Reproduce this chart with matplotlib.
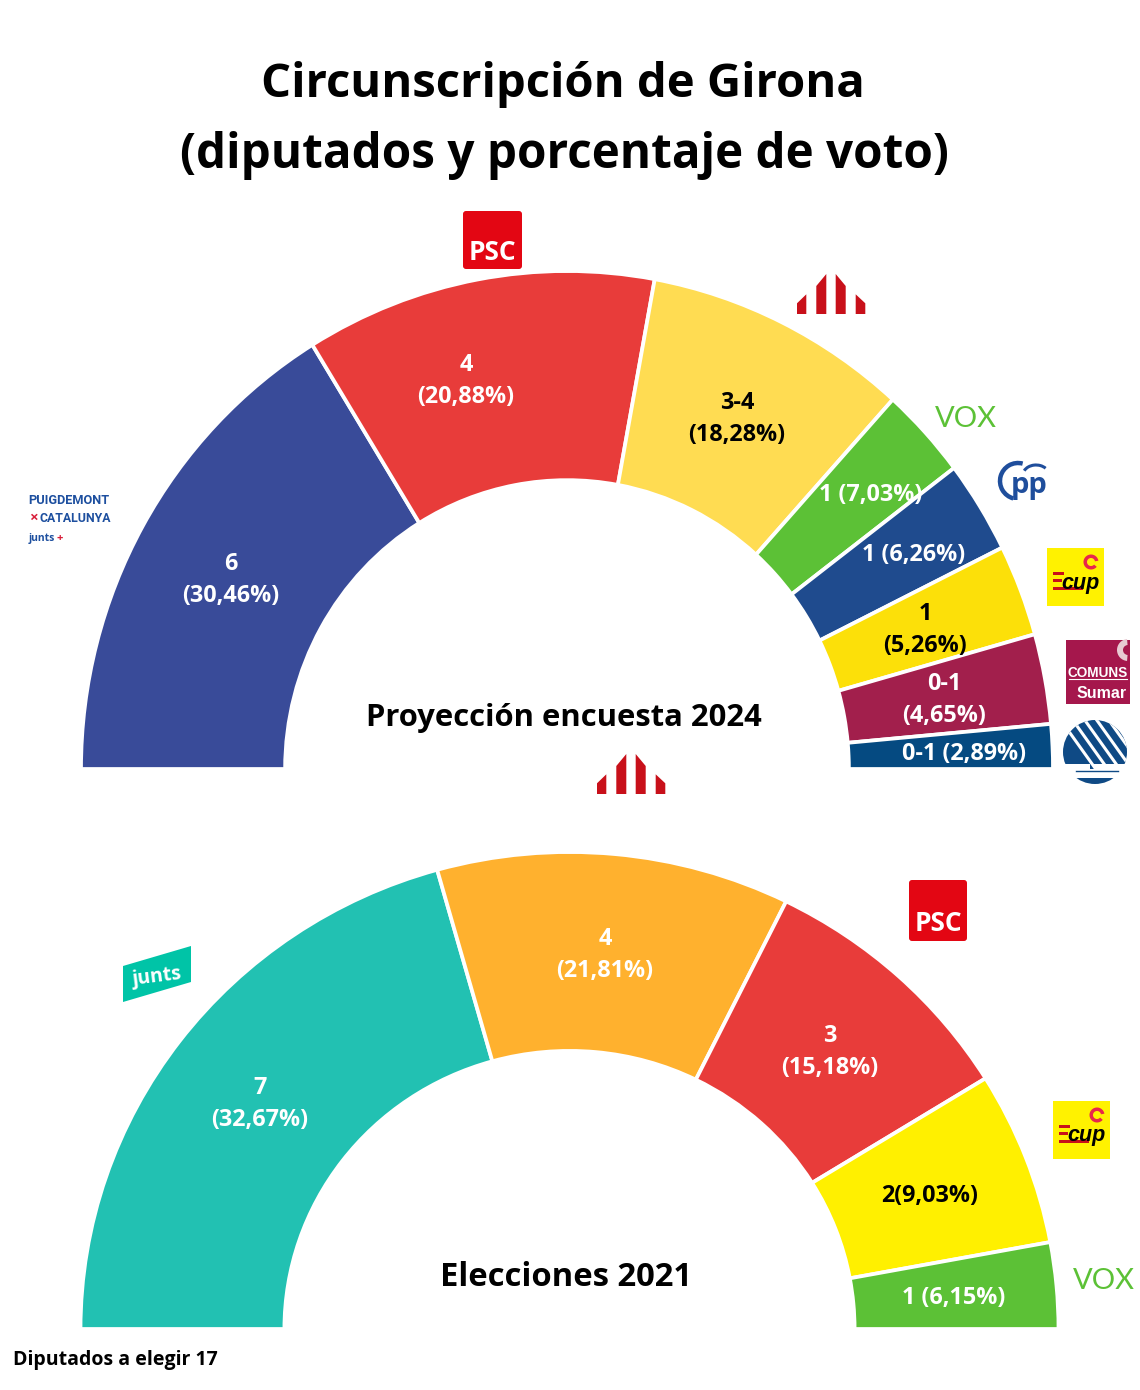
import matplotlib
matplotlib.use('Agg')
import matplotlib.pyplot as plt
from matplotlib.patches import Rectangle, FancyBboxPatch, Polygon, Circle, Arc, Wedge

W, H = 1140, 1390
FUENTE = 'Open Sans'

# Encuesta 2024: tamano de cada sector (grados)
sectores_2024 = [58.4, 42.0, 31.7, 10.7, 10.8, 10.7, 10.5, 5.2]
etiquetas_2024 = ['6\n(30,46%)', '4\n(20,88%)', '3-4\n(18,28%)', '1 (7,03%)', '1 (6,26%)',
                  '1\n(5,26%)', '0-1\n(4,65%)', '0-1 (2,89%)']
colores_2024 = ['#394B99', '#E83C3A', '#FFDC52', '#5CC136', '#1F4B8E', '#FCE009', '#A21F4C', '#054A81']
texto_2024 = ['white', 'white', 'black', 'white', 'white', 'black', 'white', 'white']
pos_2024 = [(231, 580), (466, 381), (737, 419), (871, 495), (914, 555), (925, 630), (944, 700), (964, 754)]

# Elecciones 2021
sectores_2021 = [74.3, 42.0, 32.0, 21.2, 10.5]
etiquetas_2021 = ['7\n(32,67%)', '4\n(21,81%)', '3\n(15,18%)', '2(9,03%)', '1 (6,15%)']
colores_2021 = ['#22C1B2', '#FFB12E', '#E83C3A', '#FFF000', '#5CC136']
texto_2021 = ['white', 'white', 'white', 'black', 'white']
pos_2021 = [(260, 1104), (605, 955), (830, 1052), (930, 1196), (954, 1298)]


def semicirculo(cx, cy, a, b, r_int, sectores, colores):
    # ejes a medida para que el circulo unidad salga como la elipse del original
    ax = fig.add_axes([(cx - a) / W, 1 - (cy + b) / H, 2 * a / W, 2 * b / H])
    valores = sectores + [sum(sectores)]
    wedges, _ = ax.pie(valores, colors=colores + ['white'], startangle=180, counterclock=False,
                       radius=1, wedgeprops={'width': 1 - r_int, 'edgecolor': 'white', 'linewidth': 2.7})
    wedges[-1].set_visible(False)
    ax.set_aspect('auto')
    ax.set_xlim(-1, 1)
    ax.set_ylim(-1, 1)
    ax.axis('off')


def logo_erc(x, y):
    piezas = [[(0, 0), (9.3, 0), (9.3, -19.7), (0, -10.7)],
              [(19.3, 0), (29.3, 0), (29.3, -40), (19.3, -28)],
              [(38.7, 0), (48.7, 0), (48.7, -28), (38.7, -40)],
              [(58.7, 0), (68.3, 0), (68.3, -10.7), (58.7, -19.7)]]
    for p in piezas:
        lienzo.add_patch(Polygon([(x + px, y + py) for px, py in p], color='#C8101A', lw=0))


def logo_psc(x, y, ancho, alto):
    lienzo.add_patch(FancyBboxPatch((x + 3, y + 3), ancho - 6, alto - 6, boxstyle='round,pad=3,rounding_size=3',
                                    fc='#E30613', ec='none'))
    lienzo.text(x + ancho / 2, y + alto * 0.71, 'PSC', color='white', fontsize=19, fontweight='bold',
                family=FUENTE, ha='center', va='center')


def logo_vox(x, y):
    lienzo.text(x, y, 'VOX', color='#5CC136', fontsize=21, family='Lato', ha='center', va='center')


def logo_cup(x, y):
    lienzo.add_patch(Rectangle((x, y), 57, 58, fc='#FFF200', ec='none'))
    lienzo.add_patch(Wedge((x + 44, y + 14), 7.5, 40, 350, width=3.5, color='#E8274B', lw=0))
    lienzo.add_patch(Rectangle((x + 6, y + 24), 11, 2.5, fc='#C8101A', ec='none'))
    lienzo.add_patch(Rectangle((x + 6, y + 31), 9, 2.5, fc='#C8101A', ec='none'))
    lienzo.add_patch(Rectangle((x + 6, y + 39), 30, 3, fc='#C8101A', ec='none'))
    lienzo.text(x + 33, y + 35, 'cup', color='black', fontsize=15.5, fontweight='bold', style='italic',
                family='Liberation Sans', ha='center', va='center')


semi = {'family': FUENTE, 'fontweight': 'bold'}

fig = plt.figure(figsize=(W / 100, H / 100), dpi=100, facecolor='white')

semicirculo(567, 769, 486, 498, 0.58, sectores_2024, colores_2024)
semicirculo(569.5, 1329, 489, 477, 0.583, sectores_2021, colores_2021)

# capa en pixeles para textos y logos
lienzo = fig.add_axes([0, 0, 1, 1], facecolor='none')
lienzo.set_xlim(0, W)
lienzo.set_ylim(H, 0)
lienzo.axis('off')

lienzo.text(563, 85, 'Circunscripción de Girona', fontsize=34, ha='center', va='center', **semi)
lienzo.text(564, 156, '(diputados y porcentaje de voto)', fontsize=34.3, ha='center', va='center', **semi)
lienzo.text(564, 718, 'Proyección encuesta 2024', fontsize=22.3, ha='center', va='center', **semi)
lienzo.text(566, 1277, 'Elecciones 2021', fontsize=23.6, ha='center', va='center', **semi)
lienzo.text(13, 1360, 'Diputados a elegir 17', fontsize=14, ha='left', va='center', **semi)

for etiquetas, pos, tinta in [(etiquetas_2024, pos_2024, texto_2024), (etiquetas_2021, pos_2021, texto_2021)]:
    for txt, (x, y), c in zip(etiquetas, pos, tinta):
        lienzo.text(x, y, txt, color=c, fontsize=16.8, ha='center', va='center', linespacing=1.45, **semi)

logo_psc(463, 211, 59, 58)
logo_psc(909, 880, 58, 61)
logo_erc(797, 314)
logo_erc(597, 794)
logo_vox(966, 419)
logo_vox(1104, 1281)
logo_cup(1047, 548)
logo_cup(1053, 1101)

# PP
lienzo.add_patch(Arc((1018, 481), 36, 36, theta1=105, theta2=285, color='#1F4E9C', lw=3.2))
lienzo.add_patch(Arc((1036, 475), 26, 20, theta1=200, theta2=325, color='#1F4E9C', lw=2.2))
lienzo.text(1029, 485, 'pp', color='#1F4E9C', fontsize=21, fontweight='bold', family=FUENTE, ha='center', va='center')

# Comuns Sumar
lienzo.add_patch(Rectangle((1066, 640), 64, 64, fc='#A5174C', ec='none'))
lienzo.add_patch(Wedge((1128, 650), 11, 95, 265, width=6, color='#E8C9D2', lw=0))
lienzo.text(1097.5, 673, 'COMUNS', color='white', fontsize=9.8, fontweight='bold', family='Liberation Sans', ha='center', va='center')
lienzo.plot([1069, 1127], [678.5, 678.5], color='white', lw=0.8)
lienzo.text(1102, 693, 'Sumar', color='white', fontsize=11.5, fontweight='bold', family='Liberation Sans', ha='center', va='center')

# arbol azul
copa = Circle((1095, 752), 32, fc='#0F4A85', ec='none')
lienzo.add_patch(copa)
for d in range(0, 90, 12):
    linea, = lienzo.plot([1050 + d, 1100 + d], [705, 775], color='white', lw=2.2)
    linea.set_clip_path(copa)
lienzo.add_patch(Rectangle((1060, 764), 72, 14, fc='white', ec='none'))
lienzo.add_patch(Rectangle((1090, 757), 4, 12, fc='#0F4A85', ec='none'))
lienzo.plot([1076, 1118], [771, 771], color='#0F4A85', lw=1)

# Puigdemont x Catalunya
estrecha = {'family': 'Roboto', 'fontweight': 'bold', 'color': '#1D4F9F', 'va': 'center'}
lienzo.text(28, 501, 'PUIGDEMONT', fontsize=9.2, ha='left', **estrecha)
lienzo.text(40, 518, 'CATALUNYA', fontsize=8.8, ha='left', **estrecha)
lienzo.text(33, 518, '×', fontsize=11, color='#D81E3A', fontweight='bold', family=FUENTE, ha='center', va='center')
lienzo.text(29, 539, 'junts', fontsize=7.5, color='#1D4F9F', fontweight='bold', family=FUENTE, ha='left', va='center')
lienzo.text(60, 539, '+', fontsize=8, color='#D81E3A', fontweight='bold', family=FUENTE, ha='center', va='center')

# junts
lienzo.add_patch(Polygon([(123, 966), (191, 946), (191, 982), (123, 1002)], color='#00C4A7', lw=0))
lienzo.text(157, 977, 'junts', color='white', fontsize=14, fontweight='bold', rotation=7, family=FUENTE, ha='center', va='center')

fig.savefig('out.png', dpi=100, facecolor='white')
